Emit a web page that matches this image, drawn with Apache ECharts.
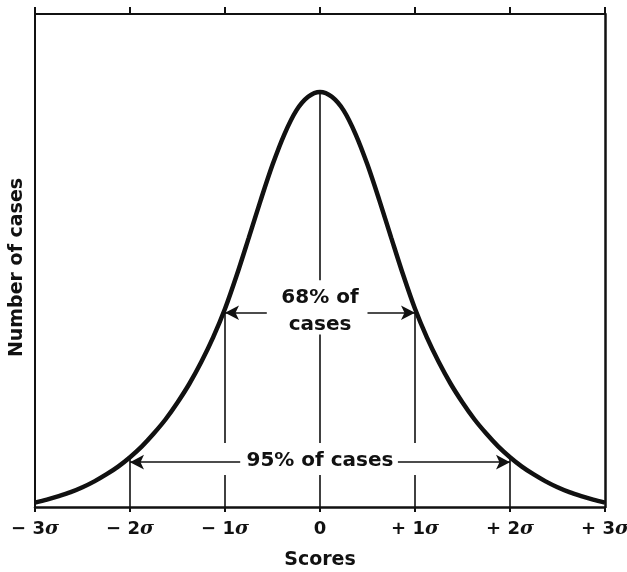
<!DOCTYPE html>
<html><head><meta charset="utf-8">
<script src="https://cdn.jsdelivr.net/npm/echarts@6/dist/echarts.min.js"></script>
<style>html,body{margin:0;padding:0;background:#fff}#c{width:627px;height:572px}</style>
</head><body><div id="c"></div>
<script>
// Curve (x in sigma units, y relative number of cases)
const sigmaX = [-3,-2.875,-2.75,-2.625,-2.5,-2.375,-2.25,-2.125,-2,-1.875,-1.75,-1.625,-1.5,-1.375,-1.25,-1.125,-1,-0.875,-0.75,-0.625,-0.5,-0.375,-0.25,-0.125,
                0,0.125,0.25,0.375,0.5,0.625,0.75,0.875,1,1.125,1.25,1.375,1.5,1.625,1.75,1.875,2,2.125,2.25,2.375,2.5,2.625,2.75,2.875,3];
const cases  = [0.9,1.5,2.2,3.0,4.0,5.2,6.6,8.2,10.1,12.3,14.9,17.8,21.2,25.0,29.4,34.4,40.2,47.1,54.6,62.2,69.4,75.6,80.4,83.2,
                84.2,83.2,80.4,75.6,69.4,62.2,54.6,47.1,40.2,34.4,29.4,25.0,21.2,17.8,14.9,12.3,10.1,8.2,6.6,5.2,4.0,3.0,2.2,1.5,0.9];
const tickLabels = ['− 3', '− 2', '− 1', '0', '+ 1', '+ 2', '+ 3'];
// vertical guide segments [x, yFrom, yTo]
const guides = [[-2,0,10.1],[-1,0,6.5],[-1,13,40.2],[0,0,6.5],[0,13,35],[0,46,84.2],[1,0,6.5],[1,13,40.2],[2,0,10.1]];
// arrows [xFrom, xTo, y]
const arrows = [[-0.56,-1,39.4],[0.5,1,39.4],[-0.84,-2,9.1],[0.82,2,9.1]];
// annotations [x, y, text]
const notes = [[0,42.4,'68% of'],[0,37.0,'cases'],[0,9.3,'95% of cases']];

const chart = echarts.init(document.getElementById('c'));
const ink = '#111';
const font = 'DejaVu Sans';
const markLines = [];
guides.forEach(g => markLines.push([{coord:[g[0],g[1]],symbol:'none'},{coord:[g[0],g[2]],symbol:'none'}]));
arrows.forEach(a => markLines.push([{coord:[a[0],a[2]],symbol:'none'},{coord:[a[1],a[2]],symbol:'arrow',symbolSize:[11,14]}]));
chart.setOption({
  animation:false,
  backgroundColor:'#fff',
  grid:{left:35,right:22,top:14,bottom:65,outerBoundsMode:'none',containLabel:false},
  xAxis:[{
    type:'value',min:-3,max:3,interval:1,
    name:'Scores',nameLocation:'middle',nameGap:44,
    nameTextStyle:{fontFamily:font,fontWeight:'bold',fontSize:19,color:ink},
    axisLine:{onZero:false,lineStyle:{color:ink,width:2.5}},
    axisTick:{show:true,length:5,lineStyle:{color:ink,width:2}},
    splitLine:{show:false},
    axisLabel:{margin:13,color:ink,hideOverlap:false,
      formatter:(v)=>{const i=Math.round(v)+3;return i===3?'{n|0}':'{n|'+tickLabels[i]+'}{s|σ}';},
      rich:{n:{fontFamily:font,fontSize:18,fontWeight:'bold',color:ink},
            s:{fontFamily:'DejaVu Serif',fontStyle:'italic',fontWeight:'bold',fontSize:19,color:ink}}}
  },{
    type:'value',min:-3,max:3,interval:1,position:'top',
    axisLine:{show:true,onZero:false,lineStyle:{color:ink,width:2}},
    axisTick:{show:true,length:7,lineStyle:{color:ink,width:2}},
    axisLabel:{show:false},splitLine:{show:false}
  }],
  yAxis:[{
    type:'value',min:0,max:100,position:'left',
    name:'Number of cases',nameLocation:'middle',nameGap:8,nameRotate:90,
    nameTextStyle:{fontFamily:font,fontWeight:'bold',fontSize:19,color:ink,padding:[0,14,0,0]},
    axisLine:{show:true,onZero:false,lineStyle:{color:ink,width:2}},
    axisTick:{show:false},axisLabel:{show:false},splitLine:{show:false}
  },{
    type:'value',min:0,max:100,position:'right',
    axisLine:{show:true,onZero:false,lineStyle:{color:ink,width:2.5}},
    axisTick:{show:false},axisLabel:{show:false},splitLine:{show:false}
  }],
  series:[{
    type:'line',smooth:0.3,symbol:'none',
    data:sigmaX.map((x,i)=>[x,cases[i]]),
    lineStyle:{color:ink,width:4.5},z:3,
    markLine:{silent:true,symbol:'none',label:{show:false},
      lineStyle:{color:ink,width:1.6,type:'solid'},data:markLines},
    markPoint:{silent:true,symbol:'circle',symbolSize:0,
      data:notes.map(n=>({coord:[n[0],n[1]],value:n[2],
        label:{show:true,position:'inside',formatter:n[2],color:ink,fontFamily:font,fontWeight:'bold',fontSize:20}}))}
  }]
});
</script></body></html>
